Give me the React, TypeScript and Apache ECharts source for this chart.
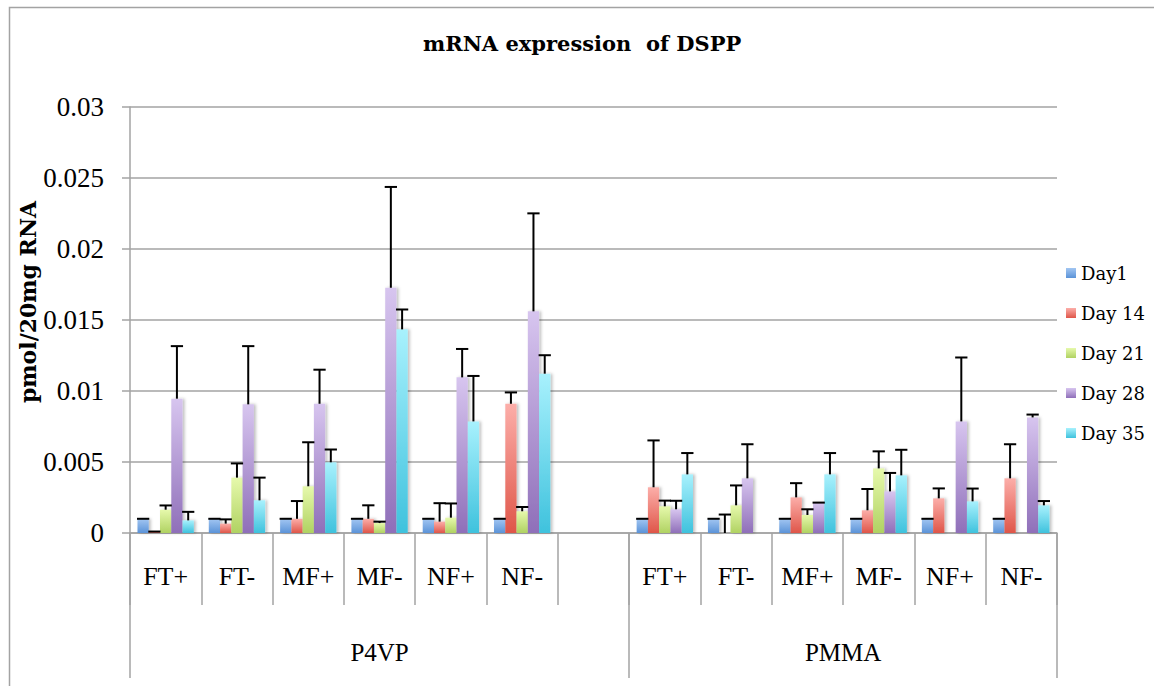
import React, { useEffect, useRef } from 'react';
import * as echarts from 'echarts';

// ---- Data ----
const categoryKeys = [
  'P4VP FT+', 'P4VP FT-', 'P4VP MF+', 'P4VP MF-', 'P4VP NF+', 'P4VP NF-', 'P4VP gap',
  'PMMA FT+', 'PMMA FT-', 'PMMA MF+', 'PMMA MF-', 'PMMA NF+', 'PMMA NF-',
];
const categoryLabels = ['FT+', 'FT-', 'MF+', 'MF-', 'NF+', 'NF-', '', 'FT+', 'FT-', 'MF+', 'MF-', 'NF+', 'NF-'];
const groupLabels = ['P4VP', 'PMMA'];
const groupStarts = [0, 7];
const seriesNames = ['Day1', 'Day 14', 'Day 21', 'Day 28', 'Day 35'];
const yTickLabels = ['0', '0.005', '0.01', '0.015', '0.02', '0.025', '0.03'];

const day1 = [0.001, 0.001, 0.001, 0.001, 0.001, 0.001, null, 0.001, 0.001, 0.001, 0.001, 0.001, 0.001];
const day1Err = [0, 0, 0, 0, 0, 0, null, 0, 0, 0, 0, 0, 0];
const day14 = [0.0001, 0.00066, 0.001, 0.001, 0.0008, 0.0091, null, 0.00322, 0, 0.00251, 0.0016, 0.00244, 0.00385];
const day14Err = [0, 0.0003, 0.00125, 0.00095, 0.0013, 0.0008, null, 0.0033, 0.0013, 0.001, 0.0015, 0.0007, 0.0024];
const day21 = [0.00164, 0.0039, 0.00329, 0.0007, 0.00108, 0.00153, null, 0.00188, 0.00195, 0.00127, 0.00455, 0, 0];
const day21Err = [0.0003, 0.001, 0.0031, 0.0001, 0.001, 0.0003, null, 0.0004, 0.0014, 0.0004, 0.0012, null, null];
const day28 = [0.00946, 0.00906, 0.0091, 0.01727, 0.01096, 0.01561, null, 0.00167, 0.00385, 0.00214, 0.00293, 0.00786, 0.00814];
const day28Err = [0.0037, 0.0041, 0.0024, 0.0071, 0.002, 0.0069, null, 0.0006, 0.0024, 0, 0.0013, 0.0045, 0.0002];
const day35 = [0.00089, 0.0023, 0.00498, 0.01434, 0.00786, 0.01122, null, 0.00413, 0, 0.00413, 0.00406, 0.00223, 0.00195];
const day35Err = [0.0006, 0.0016, 0.0009, 0.0014, 0.0032, 0.0013, null, 0.0015, null, 0.0015, 0.0018, 0.0009, 0.0003];

const colorsTop = ['#A2C6F2', '#FCAEA9', '#E6F9AC', '#D7C5EF', '#A8F1FD'];
const colorsBottom = ['#5B93D8', '#DF5649', '#B0D262', '#8F6FB9', '#3FC2DD'];

export default function App() {
  const ref = useRef<HTMLDivElement>(null);
  useEffect(() => {
    const chart = echarts.init(ref.current!, null, { renderer: 'svg' });
    const values = [day1, day14, day21, day28, day35];
    const errors = [day1Err, day14Err, day21Err, day28Err, day35Err];
    const nSeries = values.length;
    const catGap = 0.21;
    const gridLeft = 130;
    const gridRight = 97;
    const gridWidth = 1154 - gridLeft - gridRight;
    const band = gridWidth / categoryKeys.length;

    // group label placement (in category units)
    const groupEnds = [groupStarts[1], categoryKeys.length];
    const groupLabelIdx: Record<number, { text: string; shift: number }> = {};
    groupLabels.forEach((g, k) => {
      const center = (groupStarts[k] + groupEnds[k]) / 2 - 0.5;
      const idx = Math.floor(center);
      groupLabelIdx[idx] = { text: g, shift: (center - idx) * band };
    });

    const barSeries = values.map((v, i) => ({
      type: 'bar',
      name: seriesNames[i],
      data: v,
      barGap: '0%',
      barCategoryGap: catGap * 100 + '%',
      z: 2,
      itemStyle: {
        color: new echarts.graphic.LinearGradient(0, 0, 0, 1, [
          { offset: 0, color: colorsTop[i] },
          { offset: 1, color: colorsBottom[i] },
        ]),
        shadowColor: 'rgba(0,0,0,0.25)',
        shadowBlur: 3,
        shadowOffsetX: 2,
      },
    }));

    const errSeries = values.map((v, i) => ({
      type: 'custom',
      name: seriesNames[i] + ' error',
      silent: true,
      z: 5,
      data: v.map((val, j) => [j, val == null ? 0 : val, errors[i][j] == null ? -1 : errors[i][j]]),
      encode: { x: 0, y: 1 },
      renderItem: (params: any, api: any) => {
        const idx = api.value(0);
        const val = api.value(1);
        const err = api.value(2);
        if (err < 0 || isNaN(err)) return null;
        const bw = (api.size([1, 0])[0] * (1 - catGap)) / nSeries;
        const base = api.coord([idx, val]);
        const top = api.coord([idx, val + err]);
        const cx = base[0] + (i - (nSeries - 1) / 2) * bw;
        return {
          type: 'group',
          children: [
            { type: 'line', shape: { x1: cx, y1: base[1], x2: cx, y2: top[1] }, style: { stroke: '#000', lineWidth: 2 } },
            { type: 'line', shape: { x1: cx - bw / 2 - 0.5, y1: top[1], x2: cx + bw / 2 + 0.5, y2: top[1] }, style: { stroke: '#000', lineWidth: 2 } },
          ],
        };
      },
    }));

    const gray = '#A3A3A3';
    chart.setOption({
      animation: false,
      backgroundColor: '#fff',
      title: {
        text: 'mRNA expression  of DSPP',
        left: 423,
        top: 33,
        padding: 0,
        textStyle: { fontFamily: 'DejaVu Serif', fontWeight: 'bold', fontSize: 21, color: '#000' },
      },
      legend: {
        orient: 'vertical',
        left: 1066,
        top: 264,
        padding: 0,
        itemWidth: 10,
        itemHeight: 10,
        itemGap: 22,
        itemTextGap: 6,
        icon: 'rect',
        data: seriesNames,
        textStyle: { fontFamily: 'DejaVu Serif', fontSize: 18, color: '#000', lineHeight: 18 },
      },
      graphic: [
        {
          type: 'rect',
          silent: true,
          shape: { x: 9.5, y: 7.5, width: 1300, height: 900 },
          style: { fill: 'none', stroke: gray, lineWidth: 1.5 },
        },
      ],
      grid: { left: gridLeft, right: gridRight, top: 107, bottom: 153 },
      xAxis: [
        {
          type: 'category',
          data: categoryKeys,
          position: 'bottom',
          axisLine: { show: true, lineStyle: { color: gray, width: 1.5 } },
          axisTick: { show: true, length: 72, lineStyle: { color: gray, width: 1.5 } },
          axisLabel: {
            interval: 0,
            margin: 30,
            formatter: (_v: string, i: number) => categoryLabels[i],
            fontFamily: 'Liberation Serif',
            fontSize: 26,
            color: '#000',
          },
        },
        {
          type: 'category',
          data: categoryKeys,
          position: 'bottom',
          offset: 0,
          axisLine: { show: false },
          axisTick: {
            show: true,
            length: 145,
            interval: (i: number) => groupStarts.indexOf(i) >= 0,
            lineStyle: { color: gray, width: 1.5 },
          },
          axisLabel: {
            interval: (i: number) => !!groupLabelIdx[i],
            margin: 107,
            formatter: (_v: string, i: number) => (groupLabelIdx[i] ? '{g' + i + '|' + groupLabelIdx[i].text + '}' : ''),
            rich: Object.fromEntries(
              Object.keys(groupLabelIdx).map((k) => [
                'g' + k,
                {
                  fontFamily: 'Liberation Serif',
                  fontSize: 25,
                  color: '#000',
                  padding: [0, 0, 0, groupLabelIdx[+k].shift * 2],
                },
              ])
            ),
          },
        },
      ],
      yAxis: {
        type: 'value',
        min: 0,
        max: 0.03,
        interval: 0.005,
        name: 'pmol/20mg RNA',
        nameLocation: 'middle',
        nameRotate: 90,
        nameGap: 91,
        nameMoveOverlap: false,
        nameTextStyle: { fontFamily: 'DejaVu Serif', fontWeight: 'bold', fontSize: 22, color: '#000', padding: [0, 0, 0, 36] },
        axisLine: { show: true, lineStyle: { color: gray, width: 1.5 } },
        axisTick: { show: true, length: 8, lineStyle: { color: gray, width: 1.5 } },
        splitLine: { show: true, lineStyle: { color: gray, width: 1.5 } },
        axisLabel: {
          margin: 26,
          formatter: (v: number) => yTickLabels[Math.round(v / 0.005)],
          fontFamily: 'Liberation Serif',
          fontSize: 27,
          color: '#000',
        },
      },
      series: [...barSeries, ...errSeries],
    });
    return () => chart.dispose();
  }, []);
  return <div ref={ref} style={{ position: 'absolute', left: 0, top: 0, width: 1154, height: 686 }} />;
}
